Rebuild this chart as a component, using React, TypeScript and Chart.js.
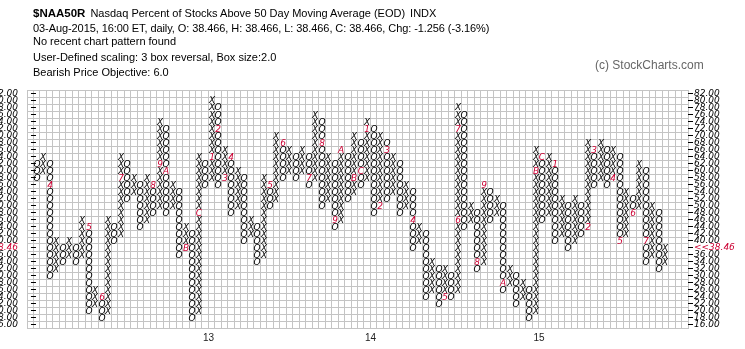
import React, { useEffect, useRef } from 'react';
import { Chart, registerables } from 'chart.js';

Chart.register(...registerables);

const TOTAL_COLS = 102;
const FIRST_COL = 1;
const Y_MIN = 15;
const Y_MAX = 83;

const priceTicks = [82, 80, 78, 76, 74, 72, 70, 68, 66, 64, 62, 60, 58, 56, 54, 52, 50, 48, 46, 44, 42, 40, 38, 36, 34, 32, 30, 28, 26, 24, 22, 20, 18, 16];
const gridLevels = [83, 81, 79, 77, 75, 73, 71, 69, 67, 65, 63, 61, 59, 57, 55, 53, 51, 49, 47, 45, 43, 41, 39, 37, 35, 33, 31, 29, 27, 25, 23, 21, 19, 17, 15];

// Point & Figure columns (box size 2, 3-box reversal)
const colTypes = [
  'O', 'X', 'O', 'X', 'O', 'X', 'O', 'X', 'O', 'X',
  'O', 'X', 'O', 'X', 'O', 'X', 'O', 'X', 'O', 'X',
  'O', 'X', 'O', 'X', 'O', 'X', 'O', 'X', 'O', 'X',
  'O', 'X', 'O', 'X', 'O', 'X', 'O', 'X', 'O', 'X',
  'O', 'X', 'O', 'X', 'O', 'X', 'O', 'X', 'O', 'X',
  'O', 'X', 'O', 'X', 'O', 'X', 'O', 'X', 'O', 'X',
  'O', 'X', 'O', 'X', 'O', 'X', 'O', 'X', 'O', 'X',
  'O', 'X', 'O', 'X', 'O', 'X', 'O', 'X', 'O', 'X',
  'O', 'X', 'O', 'X', 'O', 'X', 'O', 'X', 'O', 'X',
  'O', 'X', 'O', 'X', 'O', 'X', 'O', 'X',
];
const colLows = [
  58, 60, 30, 32, 34, 36, 34, 36, 20, 22,
  18, 20, 40, 42, 52, 54, 44, 46, 48, 50,
  48, 50, 36, 38, 18, 20, 56, 58, 56, 58,
  48, 50, 40, 42, 34, 36, 50, 52, 58, 60,
  58, 60, 56, 58, 50, 52, 44, 46, 52, 54,
  56, 58, 48, 50, 52, 54, 48, 50, 38, 40,
  24, 26, 22, 24, 24, 26, 44, 46, 32, 34,
  46, 48, 26, 28, 22, 24, 18, 20, 46, 48,
  40, 42, 38, 40, 42, 44, 56, 58, 56, 58,
  40, 42, 48, 50, 34, 36, 32, 34,
];
const colHighs = [
  62, 64, 62, 40, 38, 40, 38, 46, 44, 26,
  24, 46, 44, 64, 62, 58, 56, 58, 56, 74,
  72, 56, 54, 44, 42, 64, 62, 80, 78, 66,
  64, 60, 58, 46, 44, 58, 56, 70, 68, 66,
  64, 66, 64, 76, 74, 64, 62, 66, 64, 70,
  68, 74, 72, 70, 68, 64, 62, 56, 54, 44,
  42, 34, 32, 32, 30, 78, 76, 50, 48, 56,
  54, 52, 50, 32, 30, 28, 26, 66, 64, 64,
  62, 52, 50, 52, 50, 68, 66, 68, 66, 66,
  64, 54, 52, 62, 60, 50, 48, 38,
];

// month markers (1-9, A, B, C) : column number (1-based), box value, label
const markerCols = [3, 9, 11, 14, 19, 20, 21, 24, 26, 28, 29, 30, 31, 37, 39, 43, 45, 47, 48, 50, 51, 52, 54, 55, 59, 64, 66, 66, 69, 70, 73, 78, 79, 81, 86, 87, 90, 91, 93, 95];
const markerValues = [56, 44, 24, 58, 56, 62, 60, 38, 48, 64, 72, 58, 64, 56, 68, 58, 68, 46, 66, 58, 60, 72, 50, 66, 46, 24, 46, 72, 34, 56, 28, 60, 64, 62, 44, 66, 58, 40, 48, 40];
const markerLabels = ['4', '5', '6', '7', '8', '9', 'A', 'B', 'C', '1', '2', '3', '4', '5', '6', '7', '8', '9', 'A', 'B', 'C', '1', '2', '3', '4', '5', '6', '7', '8', '9', 'A', 'B', 'C', '1', '2', '3', '4', '5', '6', '7'];

const yearCols = [28, 53, 79];
const yearLabels = ['13', '14', '15'];

const lastPriceRow = 38;
const lastPriceText = '38.46';

const RED = '#cc0033';
const GRID = '#c4c4c4';
const GLYPH_FONT = 'italic 9px "DejaVu Sans", Verdana, sans-serif';

const glyphPlugin = {
  id: 'pfGlyphs',
  afterDatasetsDraw(chart: any) {
    const ctx = chart.ctx;
    ctx.save();
    ctx.font = GLYPH_FONT;
    ctx.textAlign = 'center';
    ctx.textBaseline = 'middle';
    chart.data.datasets.forEach((ds: any, di: number) => {
      if (!ds.glyphs) return;
      const meta = chart.getDatasetMeta(di);
      ctx.fillStyle = ds.glyphColor;
      meta.data.forEach((el: any, i: number) => {
        const ch = Array.isArray(ds.glyphs) ? ds.glyphs[i] : ds.glyphs;
        ctx.fillText(ch, Math.round(el.x), Math.round(el.y) + 0.5);
      });
    });
    ctx.restore();
  },
};

export default function App() {
  const ref = useRef<HTMLCanvasElement>(null);

  useEffect(() => {
    document.body.style.margin = '0';
    const isMarker = (col: number, v: number) =>
      markerCols.some((mc, k) => mc === col && markerValues[k] === v);

    const xPts: { x: number; y: number }[] = [];
    const oPts: { x: number; y: number }[] = [];
    colTypes.forEach((t, i) => {
      const col = FIRST_COL + i;
      for (let v = colLows[i]; v <= colHighs[i]; v += 2) {
        if (isMarker(col, v)) continue;
        const p = { x: col + 0.5, y: v };
        if (t === 'X') xPts.push(p);
        else oPts.push(p);
      }
    });
    const mPts = markerCols.map((c, k) => ({ x: c + 0.5, y: markerValues[k] }));
    const dashPts = priceTicks.map((v) => ({ x: FIRST_COL, y: v }));

    const colBounds: number[] = [];
    for (let i = 0; i <= TOTAL_COLS; i++) colBounds.push(i);

    const chart = new Chart(ref.current!, {
      type: 'scatter',
      plugins: [glyphPlugin],
      data: {
        datasets: [
          { data: xPts, pointRadius: 0, glyphs: 'X', glyphColor: '#000' } as any,
          { data: oPts, pointRadius: 0, glyphs: 'O', glyphColor: '#000' } as any,
          { data: mPts, pointRadius: 0, glyphs: markerLabels, glyphColor: RED } as any,
          {
            data: dashPts,
            pointStyle: 'line',
            pointRadius: 2.5,
            pointBorderColor: '#000',
            pointBorderWidth: 1,
          },
        ],
      },
      options: {
        responsive: false,
        animation: false,
        devicePixelRatio: 1,
        events: [],
        layout: { padding: { top: 90, left: 0, right: 0, bottom: 0 } },
        plugins: { legend: { display: false }, tooltip: { enabled: false }, title: { display: false } },
        scales: {
          x: {
            type: 'linear',
            position: 'bottom',
            min: 0,
            max: TOTAL_COLS,
            afterBuildTicks: (axis: any) => {
              axis.ticks = colBounds.map((v) => ({ value: v }));
            },
            afterFit: (axis: any) => {
              axis.height = 0;
            },
            ticks: { display: false },
            grid: { color: GRID, lineWidth: 1, drawTicks: false },
            border: { display: true, color: GRID },
          },
          xYear: {
            type: 'linear',
            position: 'bottom',
            min: 0,
            max: TOTAL_COLS,
            afterBuildTicks: (axis: any) => {
              axis.ticks = yearCols.map((c) => ({ value: c }));
            },
            afterFit: (axis: any) => {
              axis.height = 21;
            },
            ticks: {
              autoSkip: false,
              maxRotation: 0,
              padding: -4,
              color: '#222',
              font: { family: '"Liberation Sans", Arial, sans-serif', size: 10 },
              callback: (v: any) => {
                const idx = yearCols.indexOf(v);
                return idx >= 0 ? yearLabels[idx] : '';
              },
            },
            grid: { display: false },
            border: { display: false },
          },
          y: {
            type: 'linear',
            position: 'left',
            min: Y_MIN,
            max: Y_MAX,
            afterBuildTicks: (axis: any) => {
              axis.ticks = gridLevels.map((v) => ({ value: v }));
            },
            afterFit: (axis: any) => {
              axis.width = 0;
            },
            ticks: { display: false },
            grid: { color: GRID, lineWidth: 1, drawTicks: false },
            border: { display: true, color: GRID },
          },
          yL: {
            type: 'linear',
            position: 'left',
            min: Y_MIN,
            max: Y_MAX,
            afterBuildTicks: (axis: any) => {
              axis.ticks = priceTicks.map((v) => ({ value: v }));
            },
            afterFit: (axis: any) => {
              axis.width = 27;
            },
            ticks: {
              autoSkip: false,
              padding: 1,
              color: (ctx: any) => (ctx.tick && ctx.tick.value === lastPriceRow ? RED : '#000'),
              font: { family: '"DejaVu Sans", sans-serif', size: 9, style: 'italic' },
              callback: (v: any) => (v === lastPriceRow ? lastPriceText : Number(v).toFixed(2)),
            },
            grid: { display: false },
            border: { display: false },
          },
          yR: {
            type: 'linear',
            position: 'right',
            min: Y_MIN,
            max: Y_MAX,
            afterBuildTicks: (axis: any) => {
              axis.ticks = priceTicks.map((v) => ({ value: v }));
            },
            afterFit: (axis: any) => {
              axis.width = 57;
            },
            ticks: {
              autoSkip: false,
              padding: 1,
              color: (ctx: any) => (ctx.tick && ctx.tick.value === lastPriceRow ? RED : '#000'),
              font: { family: '"DejaVu Sans", sans-serif', size: 9, style: 'italic' },
              callback: (v: any) => (v === lastPriceRow ? '<<' + lastPriceText : Number(v).toFixed(2)),
            },
            grid: { drawOnChartArea: false, drawTicks: true, tickLength: 5, tickColor: '#000' },
            border: { display: false },
          },
        },
      } as any,
    });
    return () => chart.destroy();
  }, []);

  const sans = '"Liberation Sans", Arial, sans-serif';
  const line = (top: number, content: React.ReactNode, extra: React.CSSProperties = {}) => (
    <div style={{ position: 'absolute', left: 33, top, fontFamily: sans, fontSize: 11, lineHeight: '14px', color: '#000', whiteSpace: 'nowrap', ...extra }}>
      {content}
    </div>
  );

  return (
    <div style={{ position: 'relative', width: 745, height: 349, background: '#fff', overflow: 'hidden' }}>
      <canvas ref={ref} width={745} height={349} style={{ position: 'absolute', left: 0, top: 0 }} />
      {line(
        6,
        <>
          <span style={{ fontWeight: 'bold', fontSize: 11.5 }}>$NAA50R</span>
          <span style={{ marginLeft: 5 }}>Nasdaq Percent of Stocks Above 50 Day Moving Average (EOD)</span>
          <span style={{ marginLeft: 5 }}>INDX</span>
        </>
      )}
      {line(21, '03-Aug-2015, 16:00 ET, daily, O: 38.466, H: 38.466, L: 38.466, C: 38.466, Chg: -1.256 (-3.16%)', { letterSpacing: '-0.08px' })}
      {line(34, 'No recent chart pattern found')}
      {line(50, 'User-Defined scaling: 3 box reversal, Box size:2.0')}
      {line(65, 'Bearish Price Objective: 6.0')}
      <div style={{ position: 'absolute', left: 595, top: 58, fontFamily: sans, fontSize: 12, lineHeight: '14px', color: '#666', whiteSpace: 'nowrap' }}>
        (c) StockCharts.com
      </div>
    </div>
  );
}
